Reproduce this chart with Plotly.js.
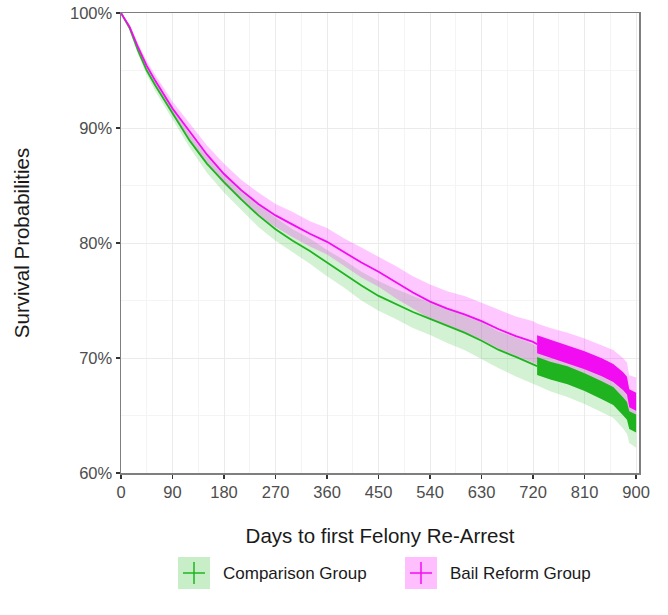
<!DOCTYPE html>
<html>
<head>
<meta charset="utf-8">
<script src="https://cdn.plot.ly/plotly-3.0.1.min.js"></script>
<style>html,body{margin:0;padding:0;background:#fff;}</style>
</head>
<body>
<div id="chart" style="width:668px;height:615px;"></div>
<script>
// ---- data ----
const days = [0,15,30,45,60,90,120,150,180,210,240,270,300,330,360,390,420,450,480,510,540,570,600,630,660,690,720,727,750,780,810,840,860,877,884,888,900];

const reformSurv  = [100,98.8,97.0,95.4,94.1,91.7,89.7,87.7,86.0,84.6,83.4,82.4,81.6,80.8,80.1,79.2,78.3,77.5,76.6,75.7,74.9,74.3,73.8,73.2,72.5,71.9,71.4,71.2,70.8,70.3,69.8,69.2,68.7,68.0,67.6,66.5,66.2];
const reformUpper = [100,99.0,97.3,95.8,94.6,92.3,90.4,88.5,86.9,85.5,84.4,83.4,82.7,81.9,81.3,80.4,79.6,78.8,78.0,77.1,76.4,75.8,75.4,74.8,74.2,73.6,73.2,73.0,72.6,72.2,71.7,71.1,70.7,70.0,69.6,68.5,68.3];
const reformLower = [100,98.6,96.7,95.0,93.6,91.1,89.0,86.9,85.1,83.7,82.4,81.4,80.5,79.7,79.0,78.0,77.0,76.2,75.2,74.3,73.4,72.8,72.2,71.6,70.8,70.2,69.6,69.4,69.0,68.4,67.9,67.3,66.7,66.0,65.6,64.5,64.1];

const compSurv  = [100,98.7,96.7,95.0,93.7,91.3,88.9,86.9,85.3,83.8,82.4,81.2,80.2,79.3,78.3,77.3,76.3,75.4,74.7,74.0,73.4,72.8,72.2,71.5,70.7,70.1,69.5,69.3,68.9,68.5,67.9,67.2,66.7,65.8,65.4,64.6,64.3];
const compUpper = [100,98.9,97.0,95.4,94.1,91.9,89.5,87.6,86.1,84.7,83.4,82.2,81.2,80.4,79.4,78.5,77.5,76.7,76.0,75.4,74.8,74.3,73.7,73.1,72.3,71.8,71.2,71.0,70.7,70.3,69.8,69.1,68.6,67.7,67.3,66.6,66.3];
const compLower = [100,98.5,96.4,94.6,93.2,90.7,88.3,86.1,84.4,82.9,81.4,80.2,79.2,78.2,77.1,76.1,75.0,74.1,73.4,72.6,72.0,71.3,70.7,69.9,69.1,68.4,67.8,67.6,67.1,66.6,66.0,65.3,64.8,63.9,63.4,62.6,62.2];

const groupNames = ["Comparison Group", "Bail Reform Group"];
const xTicks = [0,90,180,270,360,450,540,630,720,810,900];
const yTicks = [60,70,80,90,100];
const yTickText = ["60%","70%","80%","90%","100%"];
const censorStartDay = 727;

// ---- styles ----
const GREEN = "#1fb41f", MAGENTA = "#f20cf2";
const GREEN_FILL = "rgba(34,187,34,0.2)", MAGENTA_FILL = "rgba(255,0,255,0.22)";
const MARK_HALF = 0.78; // half height of the censor "+" marks, in axis units (~9px)

const cut = days.indexOf(censorStartDay);
const early = a => a.slice(0, cut + 1);
const late = a => a.slice(cut);

function censorBand(x, y, color) {
  return [
    {x: x, y: y.map(v => v - MARK_HALF), mode: "lines", line: {width: 0}, hoverinfo: "skip", showlegend: false},
    {x: x, y: y.map(v => v + MARK_HALF), mode: "lines", line: {width: 0}, fill: "tonexty", fillcolor: color, hoverinfo: "skip", showlegend: false}
  ];
}

const traces = [
  {x: days, y: compLower, mode: "lines", line: {width: 0}, hoverinfo: "skip", showlegend: false},
  {x: days, y: compUpper, mode: "lines", line: {width: 0}, fill: "tonexty", fillcolor: GREEN_FILL, hoverinfo: "skip", showlegend: false},
  {x: days, y: reformLower, mode: "lines", line: {width: 0}, hoverinfo: "skip", showlegend: false},
  {x: days, y: reformUpper, mode: "lines", line: {width: 0}, fill: "tonexty", fillcolor: MAGENTA_FILL, hoverinfo: "skip", showlegend: false},
  {x: early(days), y: early(compSurv), mode: "lines", line: {color: GREEN, width: 1.8}, name: groupNames[0], showlegend: false},
  {x: early(days), y: early(reformSurv), mode: "lines", line: {color: MAGENTA, width: 1.8}, name: groupNames[1], showlegend: false},
  // dense censoring marks after day 727 form a solid band
  ...censorBand(late(days), late(compSurv), GREEN),
  ...censorBand(late(days), late(reformSurv), MAGENTA)
];

// pixel -> paper helpers for the hand-drawn legend
const L = 121, T = 13, W = 518, H = 460;
const px = x => (x - L) / W;
const py = y => (T + H - y) / H;

function legendItem(x0, color, fill, label) {
  const shapes = [
    {type: "rect", xref: "paper", yref: "paper", x0: px(x0), x1: px(x0 + 32), y0: py(589), y1: py(557), fillcolor: fill, line: {width: 0}, layer: "above"},
    {type: "line", xref: "paper", yref: "paper", x0: px(x0 + 5), x1: px(x0 + 27), y0: py(573), y1: py(573), line: {color: color, width: 1.5}},
    {type: "line", xref: "paper", yref: "paper", x0: px(x0 + 16), x1: px(x0 + 16), y0: py(562), y1: py(584), line: {color: color, width: 1.5}}
  ];
  const ann = {xref: "paper", yref: "paper", x: px(x0 + 43), y: py(573), xanchor: "left", yanchor: "middle",
    text: label, showarrow: false, font: {family: "Liberation Sans, Arial, sans-serif", size: 17, color: "#1a1a1a"}};
  return {shapes, ann};
}
const leg1 = legendItem(178, GREEN, "rgba(34,187,34,0.25)", groupNames[0]);
const leg2 = legendItem(405, MAGENTA, "rgba(255,0,255,0.25)", groupNames[1]);

const layout = {
  width: 668, height: 615,
  margin: {l: L, r: 668 - L - W, t: T, b: 615 - T - H},
  paper_bgcolor: "#fff", plot_bgcolor: "#fff",
  font: {family: "Liberation Sans, Arial, sans-serif"},
  showlegend: false,
  xaxis: {
    range: [0, 905], tickvals: xTicks, ticktext: xTicks.map(String),
    showgrid: true, gridcolor: "#ebebeb", gridwidth: 1,
    minor: {dtick: 45, tick0: 0, showgrid: true, gridcolor: "#f4f4f4", gridwidth: 1},
    zeroline: false, showline: true, linecolor: "#7f7f7f", linewidth: 1.5, mirror: true,
    ticks: "outside", ticklen: 4, tickwidth: 1.5, tickcolor: "#333",
    tickfont: {size: 16.5, color: "#4d4d4d"},
    title: {text: "Days to first Felony Re-Arrest", font: {size: 20.5, color: "#1a1a1a"}, standoff: 28},
    automargin: false
  },
  yaxis: {
    range: [60, 100], tickvals: yTicks, ticktext: yTickText,
    showgrid: true, gridcolor: "#ebebeb", gridwidth: 1,
    minor: {dtick: 5, tick0: 60, showgrid: true, gridcolor: "#f4f4f4", gridwidth: 1},
    zeroline: false, showline: true, linecolor: "#7f7f7f", linewidth: 1.5, mirror: true,
    ticks: "outside", ticklen: 4, tickwidth: 1.5, tickcolor: "#333",
    tickfont: {size: 16.5, color: "#4d4d4d"},
    title: {text: "Survival Probabilities", font: {size: 20.5, color: "#1a1a1a"}, standoff: 35},
    automargin: false
  },
  shapes: [...leg1.shapes, ...leg2.shapes],
  annotations: [leg1.ann, leg2.ann]
};

Plotly.newPlot("chart", traces, layout, {staticPlot: true, displayModeBar: false});
</script>
</body>
</html>
